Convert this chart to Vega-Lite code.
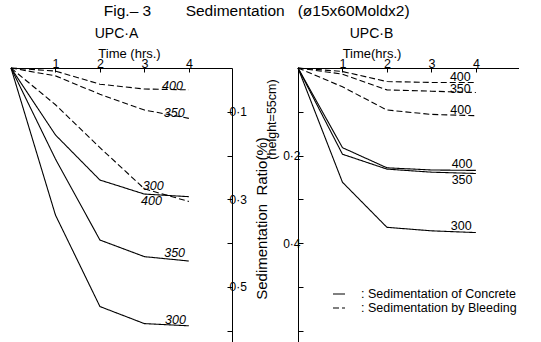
{
  "$schema": "https://vega.github.io/schema/vega-lite/v6.json",
  "background": "white",
  "padding": {"left": 8, "top": 3, "right": 0, "bottom": 0},
  "bounds": "flush",
  "spacing": 66,
  "title": {
    "text": "Fig.– 3\u00a0\u00a0\u00a0\u00a0\u00a0\u00a0\u00a0\u00a0Sedimentation\u00a0\u00a0\u00a0(ø15x60Moldx2)",
    "anchor": "start",
    "dx": 95,
    "fontSize": 15.5,
    "offset": 8
  },
  "datasets": {
    "lines": [
      {"panel": "A", "series": "A-B400", "type": "Sedimentation by Bleeding", "t": 0, "r": 0},
      {"panel": "A", "series": "A-B400", "type": "Sedimentation by Bleeding", "t": 1, "r": 0.007},
      {"panel": "A", "series": "A-B400", "type": "Sedimentation by Bleeding", "t": 2, "r": 0.037},
      {"panel": "A", "series": "A-B400", "type": "Sedimentation by Bleeding", "t": 3, "r": 0.048},
      {"panel": "A", "series": "A-B400", "type": "Sedimentation by Bleeding", "t": 4, "r": 0.050},
      {"panel": "A", "series": "A-B350", "type": "Sedimentation by Bleeding", "t": 0, "r": 0},
      {"panel": "A", "series": "A-B350", "type": "Sedimentation by Bleeding", "t": 1, "r": 0.018},
      {"panel": "A", "series": "A-B350", "type": "Sedimentation by Bleeding", "t": 2, "r": 0.060},
      {"panel": "A", "series": "A-B350", "type": "Sedimentation by Bleeding", "t": 3, "r": 0.096},
      {"panel": "A", "series": "A-B350", "type": "Sedimentation by Bleeding", "t": 4, "r": 0.115},
      {"panel": "A", "series": "A-B300", "type": "Sedimentation by Bleeding", "t": 0, "r": 0},
      {"panel": "A", "series": "A-B300", "type": "Sedimentation by Bleeding", "t": 1, "r": 0.084},
      {"panel": "A", "series": "A-B300", "type": "Sedimentation by Bleeding", "t": 2, "r": 0.182},
      {"panel": "A", "series": "A-B300", "type": "Sedimentation by Bleeding", "t": 3, "r": 0.276},
      {"panel": "A", "series": "A-B300", "type": "Sedimentation by Bleeding", "t": 4, "r": 0.305},
      {"panel": "A", "series": "A-C400", "type": "Sedimentation of Concrete", "t": 0, "r": 0},
      {"panel": "A", "series": "A-C400", "type": "Sedimentation of Concrete", "t": 1, "r": 0.153},
      {"panel": "A", "series": "A-C400", "type": "Sedimentation of Concrete", "t": 2, "r": 0.256},
      {"panel": "A", "series": "A-C400", "type": "Sedimentation of Concrete", "t": 3, "r": 0.288},
      {"panel": "A", "series": "A-C400", "type": "Sedimentation of Concrete", "t": 4, "r": 0.294},
      {"panel": "A", "series": "A-C350", "type": "Sedimentation of Concrete", "t": 0, "r": 0},
      {"panel": "A", "series": "A-C350", "type": "Sedimentation of Concrete", "t": 1, "r": 0.208},
      {"panel": "A", "series": "A-C350", "type": "Sedimentation of Concrete", "t": 2, "r": 0.393},
      {"panel": "A", "series": "A-C350", "type": "Sedimentation of Concrete", "t": 3, "r": 0.431},
      {"panel": "A", "series": "A-C350", "type": "Sedimentation of Concrete", "t": 4, "r": 0.441},
      {"panel": "A", "series": "A-C300", "type": "Sedimentation of Concrete", "t": 0, "r": 0},
      {"panel": "A", "series": "A-C300", "type": "Sedimentation of Concrete", "t": 1, "r": 0.336},
      {"panel": "A", "series": "A-C300", "type": "Sedimentation of Concrete", "t": 2, "r": 0.545},
      {"panel": "A", "series": "A-C300", "type": "Sedimentation of Concrete", "t": 3, "r": 0.584},
      {"panel": "A", "series": "A-C300", "type": "Sedimentation of Concrete", "t": 4, "r": 0.589},
      {"panel": "B", "series": "B-B400a", "type": "Sedimentation by Bleeding", "t": 0, "r": 0},
      {"panel": "B", "series": "B-B400a", "type": "Sedimentation by Bleeding", "t": 1, "r": 0.008},
      {"panel": "B", "series": "B-B400a", "type": "Sedimentation by Bleeding", "t": 2, "r": 0.031},
      {"panel": "B", "series": "B-B400a", "type": "Sedimentation by Bleeding", "t": 3, "r": 0.033},
      {"panel": "B", "series": "B-B400a", "type": "Sedimentation by Bleeding", "t": 4, "r": 0.033},
      {"panel": "B", "series": "B-B350", "type": "Sedimentation by Bleeding", "t": 0, "r": 0},
      {"panel": "B", "series": "B-B350", "type": "Sedimentation by Bleeding", "t": 1, "r": 0.014},
      {"panel": "B", "series": "B-B350", "type": "Sedimentation by Bleeding", "t": 2, "r": 0.050},
      {"panel": "B", "series": "B-B350", "type": "Sedimentation by Bleeding", "t": 3, "r": 0.053},
      {"panel": "B", "series": "B-B350", "type": "Sedimentation by Bleeding", "t": 4, "r": 0.056},
      {"panel": "B", "series": "B-B400b", "type": "Sedimentation by Bleeding", "t": 0, "r": 0},
      {"panel": "B", "series": "B-B400b", "type": "Sedimentation by Bleeding", "t": 1, "r": 0.043},
      {"panel": "B", "series": "B-B400b", "type": "Sedimentation by Bleeding", "t": 2, "r": 0.096},
      {"panel": "B", "series": "B-B400b", "type": "Sedimentation by Bleeding", "t": 3, "r": 0.106},
      {"panel": "B", "series": "B-B400b", "type": "Sedimentation by Bleeding", "t": 4, "r": 0.109},
      {"panel": "B", "series": "B-C400", "type": "Sedimentation of Concrete", "t": 0, "r": 0},
      {"panel": "B", "series": "B-C400", "type": "Sedimentation of Concrete", "t": 1, "r": 0.182},
      {"panel": "B", "series": "B-C400", "type": "Sedimentation of Concrete", "t": 2, "r": 0.228},
      {"panel": "B", "series": "B-C400", "type": "Sedimentation of Concrete", "t": 3, "r": 0.233},
      {"panel": "B", "series": "B-C400", "type": "Sedimentation of Concrete", "t": 4, "r": 0.234},
      {"panel": "B", "series": "B-C350", "type": "Sedimentation of Concrete", "t": 0, "r": 0},
      {"panel": "B", "series": "B-C350", "type": "Sedimentation of Concrete", "t": 1, "r": 0.197},
      {"panel": "B", "series": "B-C350", "type": "Sedimentation of Concrete", "t": 2, "r": 0.231},
      {"panel": "B", "series": "B-C350", "type": "Sedimentation of Concrete", "t": 3, "r": 0.238},
      {"panel": "B", "series": "B-C350", "type": "Sedimentation of Concrete", "t": 4, "r": 0.241},
      {"panel": "B", "series": "B-C300", "type": "Sedimentation of Concrete", "t": 0, "r": 0},
      {"panel": "B", "series": "B-C300", "type": "Sedimentation of Concrete", "t": 1, "r": 0.261},
      {"panel": "B", "series": "B-C300", "type": "Sedimentation of Concrete", "t": 2, "r": 0.364},
      {"panel": "B", "series": "B-C300", "type": "Sedimentation of Concrete", "t": 3, "r": 0.372},
      {"panel": "B", "series": "B-C300", "type": "Sedimentation of Concrete", "t": 4, "r": 0.376}
    ],
    "labels": [
      {"panel": "A", "t": 3.63, "r": 0.040, "label": "400"},
      {"panel": "A", "t": 3.67, "r": 0.102, "label": "350"},
      {"panel": "A", "t": 3.20, "r": 0.269, "label": "300"},
      {"panel": "A", "t": 3.16, "r": 0.305, "label": "400"},
      {"panel": "A", "t": 3.68, "r": 0.423, "label": "350"},
      {"panel": "A", "t": 3.70, "r": 0.575, "label": "300"},
      {"panel": "B", "t": 3.65, "r": 0.021, "label": "400"},
      {"panel": "B", "t": 3.65, "r": 0.048, "label": "350"},
      {"panel": "B", "t": 3.66, "r": 0.097, "label": "400"},
      {"panel": "B", "t": 3.69, "r": 0.220, "label": "400"},
      {"panel": "B", "t": 3.69, "r": 0.255, "label": "350"},
      {"panel": "B", "t": 3.67, "r": 0.362, "label": "300"}
    ]
  },
  "resolve": {"legend": {"strokeDash": "independent"}},
  "hconcat": [
    {
      "width": 221,
      "height": 274,
      "title": {"text": "UPC·A", "anchor": "middle", "dx": -5, "fontSize": 14, "offset": 6},
      "layer": [
        {
          "data": {"name": "lines"},
          "transform": [{"filter": "datum.panel === 'A'"}],
          "mark": {"type": "line", "color": "black", "strokeWidth": 1.1},
          "encoding": {
            "x": {
              "field": "t", "type": "quantitative",
              "scale": {"domain": [0, 4.97], "nice": false, "zero": true},
              "axis": {
                "orient": "top", "values": [1, 2, 3, 4], "format": "d",
                "title": "Time (hrs.)", "titleX": 118, "titleY": -15,
                "titleAlign": "center", "titleBaseline": "middle", "titleFontSize": 13,
                "tickSize": -4, "labelPadding": 2, "labelFontSize": 12.5
              }
            },
            "y": {
              "field": "r", "type": "quantitative",
              "scale": {"domain": [0, 0.626], "nice": false, "reverse": true},
              "axis": {
                "orient": "right", "values": [0.1, 0.2, 0.3, 0.4, 0.5, 0.6],
                "labelExpr": "round(datum.value*10) % 2 == 1 ? replace(format(datum.value, '.1f'), '.', '·') : ''",
                "labelFontSize": 12, "tickSize": -5, "labelPadding": 2,
                "title": "Sedimentation\u00a0\u00a0Ratio(%)", "titleAngle": 270,
                "titleX": 29, "titleY": 150, "titleAlign": "center", "titleBaseline": "middle",
                "titleFontSize": 15
              }
            },
            "detail": {"field": "series"},
            "strokeDash": {
              "field": "type", "type": "nominal",
              "scale": {"domain": ["Sedimentation of Concrete", "Sedimentation by Bleeding"], "range": [[1, 0], [6, 3]]},
              "legend": null
            }
          }
        },
        {
          "data": {"name": "labels"},
          "transform": [{"filter": "datum.panel === 'A'"}],
          "mark": {"type": "text", "fontSize": 12.5, "fontStyle": "italic", "align": "center", "baseline": "middle"},
          "encoding": {
            "x": {"field": "t", "type": "quantitative"},
            "y": {"field": "r", "type": "quantitative"},
            "text": {"field": "label"}
          }
        }
      ]
    },
    {
      "width": 221,
      "height": 274,
      "title": {"text": "UPC·B", "anchor": "middle", "dx": -37, "fontSize": 14, "offset": 6},
      "layer": [
        {
          "data": {"name": "lines"},
          "transform": [{"filter": "datum.panel === 'B'"}],
          "mark": {"type": "line", "color": "black", "strokeWidth": 1.1},
          "encoding": {
            "x": {
              "field": "t", "type": "quantitative",
              "scale": {"domain": [0, 4.97], "nice": false, "zero": true},
              "axis": {
                "orient": "top", "values": [1, 2, 3, 4], "format": "d",
                "title": "Time(hrs.)", "titleX": 73.5, "titleY": -15,
                "titleAlign": "center", "titleBaseline": "middle", "titleFontSize": 13,
                "tickSize": -4, "labelPadding": 2, "labelFontSize": 12.5
              }
            },
            "y": {
              "field": "r", "type": "quantitative",
              "scale": {"domain": [0, 0.626], "nice": false, "reverse": true},
              "axis": {
                "orient": "left", "values": [0.1, 0.2, 0.3, 0.4, 0.5, 0.6],
                "labelExpr": "(round(datum.value*10) == 2 || round(datum.value*10) == 4) ? replace(format(datum.value, '.1f'), '.', '·') : ''",
                "labelFontSize": 12, "tickSize": -5, "labelPadding": 3,
                "title": "(height=55cm)", "titleAngle": 270,
                "titleX": -27, "titleY": 51, "titleAlign": "center", "titleBaseline": "middle",
                "titleFontSize": 12.5
              }
            },
            "detail": {"field": "series"},
            "strokeDash": {
              "field": "type", "type": "nominal",
              "scale": {"domain": ["Sedimentation of Concrete", "Sedimentation by Bleeding"], "range": [[1, 0], [6, 3]]},
              "legend": {
                "orient": "none", "legendX": 34, "legendY": 219, "title": null, "padding": 0,
                "labelExpr": "':\u00a0' + datum.label",
                "labelFontSize": 12.5, "labelOffset": 15, "rowPadding": -4,
                "symbolType": "stroke", "symbolSize": 144, "symbolStrokeColor": "black", "symbolStrokeWidth": 1.1
              }
            }
          }
        },
        {
          "data": {"name": "labels"},
          "transform": [{"filter": "datum.panel === 'B'"}],
          "mark": {"type": "text", "fontSize": 12.5, "align": "center", "baseline": "middle"},
          "encoding": {
            "x": {"field": "t", "type": "quantitative"},
            "y": {"field": "r", "type": "quantitative"},
            "text": {"field": "label"}
          }
        }
      ]
    }
  ],
  "config": {
    "font": "Liberation Sans",
    "view": {"stroke": null},
    "axis": {
      "grid": false, "domainColor": "black", "tickColor": "black", "labelColor": "black",
      "titleColor": "black", "labelFont": "Liberation Sans", "titleFont": "Liberation Sans",
      "titleFontWeight": "normal", "domainWidth": 1, "tickWidth": 1
    },
    "legend": {"labelColor": "black", "labelFont": "Liberation Sans"},
    "text": {"color": "black", "font": "Liberation Sans"},
    "title": {"font": "Liberation Sans", "color": "black", "fontWeight": "normal"}
  }
}
